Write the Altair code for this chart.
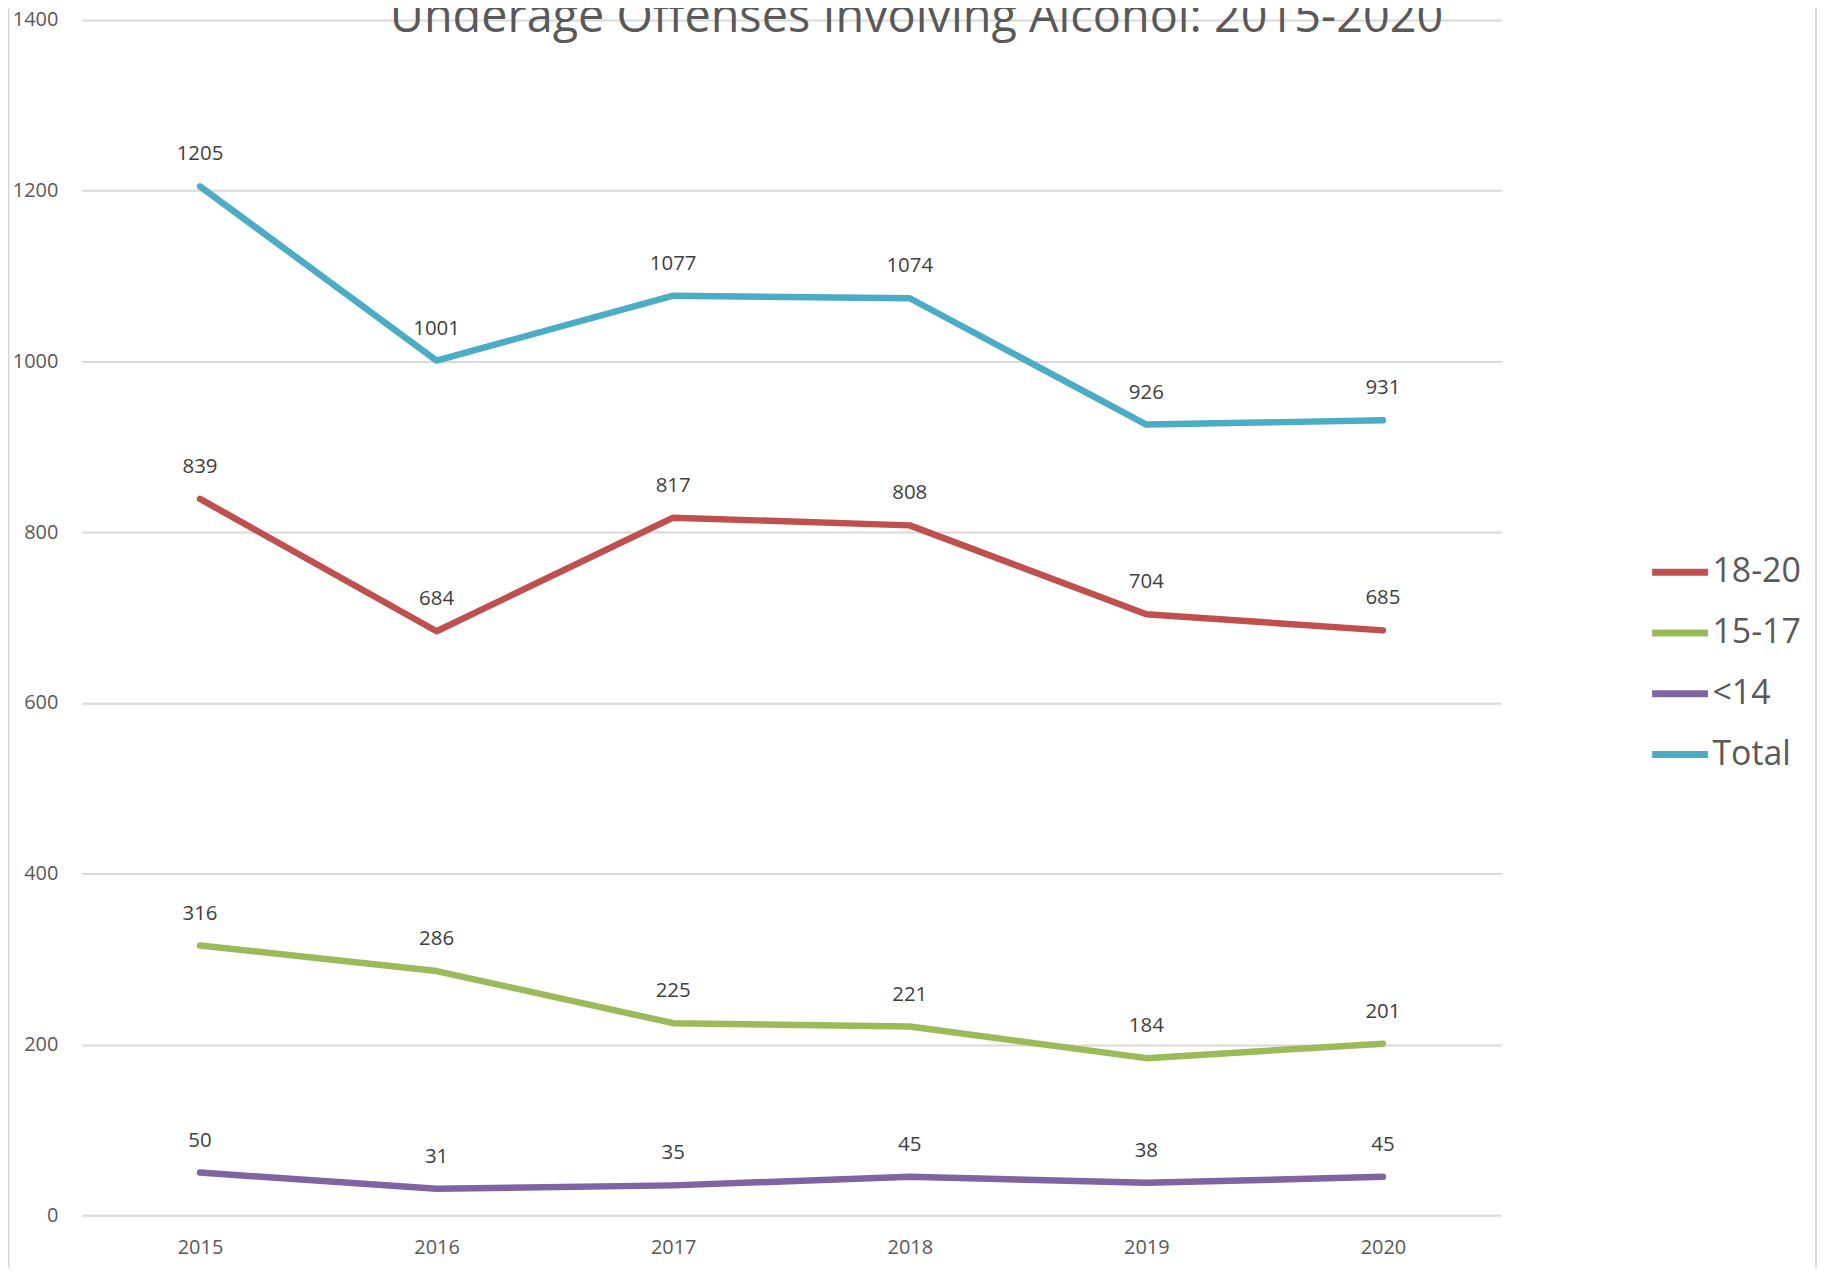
import altair as alt
import pandas as pd

years = ["2015", "2016", "2017", "2018", "2019", "2020"]
s18_20 = [839, 684, 817, 808, 704, 685]
s15_17 = [316, 286, 225, 221, 184, 201]
lt14 = [50, 31, 35, 45, 38, 45]
total = [1205, 1001, 1077, 1074, 926, 931]

series_names = ["18-20", "15-17", "<14", "Total"]
series_colors = ["#C0504D", "#9BBB59", "#8064A2", "#4BACC6"]
y_ticks = [0, 200, 400, 600, 800, 1000, 1200, 1400]
title_text = "Underage Offenses Involving Alcohol: 2015-2020"

rows = []
for name, vals in zip(series_names, [s18_20, s15_17, lt14, total]):
    for yr, v in zip(years, vals):
        rows.append({"Year": yr, "Series": name, "Value": v})
df = pd.DataFrame(rows)

FONT = "Open Sans"
W, H = 1425, 1200

x_enc = alt.X("Year:O", sort=years,
              axis=alt.Axis(title=None, labelAngle=0, domain=False, ticks=False,
                            grid=False, labelPadding=22, labelFontSize=20,
                            labelColor="#595959", labelFont=FONT))
y_enc = alt.Y("Value:Q", scale=alt.Scale(domain=[0, 1400], nice=False),
              axis=alt.Axis(title=None, values=y_ticks, format="d", domain=False,
                            ticks=False, grid=True, gridColor="#D9D9D9", gridWidth=2,
                            labelPadding=24, labelFontSize=20,
                            labelColor="#595959", labelFont=FONT))
color_enc = alt.Color("Series:N",
                      scale=alt.Scale(domain=series_names, range=series_colors),
                      legend=alt.Legend(title=None, orient="none",
                                        legendX=1573, legendY=523,
                                        symbolType="stroke", symbolSize=3136,
                                        symbolStrokeWidth=7, labelFontSize=34,
                                        labelColor="#595959", labelFont=FONT,
                                        labelOffset=1, rowPadding=12, padding=0))

base = alt.Chart(df)

lines = base.mark_line(strokeWidth=6.5, strokeCap="round", strokeJoin="round").encode(
    x=x_enc, y=y_enc, color=color_enc, detail="Series:N")

labels = base.mark_text(dy=-26, baseline="alphabetic", align="center",
                        fontSize=20.5, font=FONT, color="#404040").encode(
    x=alt.X("Year:O", sort=years), y=alt.Y("Value:Q"), text="Value:Q")

deco_df = pd.DataFrame({"side": ["left", "right"], "title": [title_text, title_text]})
left_border = alt.Chart(deco_df).transform_filter(alt.datum.side == "left").mark_rule(
    color="#D9D9D9", strokeWidth=2).encode(
    x=alt.value(-73.5), y=alt.value(-20), y2=alt.value(H + 60))
right_border = alt.Chart(deco_df).transform_filter(alt.datum.side == "right").mark_rule(
    color="#D9D9D9", strokeWidth=2).encode(
    x=alt.value(1741), y=alt.value(-20), y2=alt.value(H + 60))
title = alt.Chart(deco_df).transform_filter(alt.datum.side == "left").mark_text(
    fontSize=47, font=FONT, color="#595959", align="center", baseline="alphabetic").encode(
    x=alt.value(838), y=alt.value(12.5), text="title:N")

chart = alt.layer(left_border, right_border, lines, labels, title).properties(
    width=W, height=H,
    autosize=alt.AutoSizeParams(type="none"),
    padding={"left": 74, "top": 9.5, "right": 318, "bottom": 50.5},
).configure(background="white").configure_view(stroke=None)

chart.save("out.html", embed_options={"renderer": "svg", "actions": False})
